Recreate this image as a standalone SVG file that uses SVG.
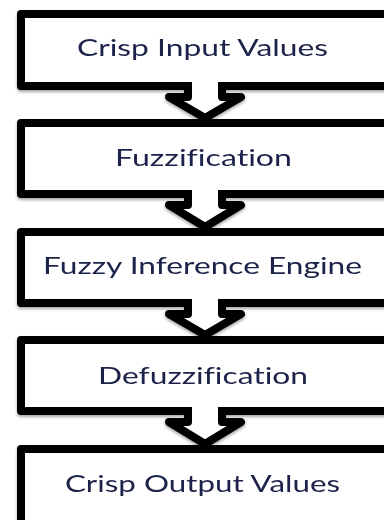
<svg xmlns="http://www.w3.org/2000/svg" width="384" height="520" viewBox="0 0 384 520">
  <defs>
    <filter id="shadow" x="-10%" y="-10%" width="120%" height="130%">
      <feDropShadow dx="0" dy="2" stdDeviation="1.6" flood-color="#000" flood-opacity="0.35"/>
    </filter>
    <style>
      .box { fill: #fff; stroke: #000; stroke-width: 8; stroke-linejoin: round; }
      .arrow { fill: #fff; stroke: #000; stroke-width: 8; stroke-linejoin: round; }
      .label { font-family: Lato, "Open Sans", sans-serif; font-size: 24px; fill: #1a2148; text-anchor: middle; font-variant-ligatures: none; font-feature-settings: "liga" 0, "dlig" 0; }
    </style>
  </defs>
  <rect width="384" height="520" fill="#fff"/>

  <g filter="url(#shadow)">
    <g id="crisp-input">
      <rect class="box" x="21" y="14" width="380" height="72"/>
      <text class="label" x="202.5" y="56" textLength="251" lengthAdjust="spacingAndGlyphs">Crisp Input Values</text>
    </g>
    <g id="fuzzification">
      <rect class="box" x="21" y="123" width="380" height="71"/>
      <text class="label" x="203.5" y="166" textLength="177" lengthAdjust="spacingAndGlyphs">Fuzzification</text>
    </g>
    <g id="inference-engine">
      <rect class="box" x="21" y="232" width="380" height="71"/>
      <text class="label" x="202.5" y="274" textLength="319" lengthAdjust="spacingAndGlyphs">Fuzzy Inference Engine</text>
    </g>
    <g id="defuzzification">
      <rect class="box" x="21" y="340" width="380" height="71"/>
      <text class="label" x="203" y="384" textLength="210" lengthAdjust="spacingAndGlyphs">Defuzzification</text>
    </g>
    <g id="crisp-output">
      <rect class="box" x="21" y="449" width="380" height="80"/>
      <text class="label" x="202.5" y="492" textLength="275" lengthAdjust="spacingAndGlyphs">Crisp Output Values</text>
    </g>

    <!-- hollow block arrows between stages -->
    <g id="connectors">
      <path class="arrow" d="M188,82 V97 H169 L205,118 L241,97 H222 V82"/>
      <path class="arrow" d="M188,190 V205 H169 L205,227 L241,205 H222 V190"/>
      <path class="arrow" d="M188,299 V314 H169 L205,335 L241,314 H222 V299"/>
      <path class="arrow" d="M188,407 V422 H169 L205,444 L241,422 H222 V407"/>
    </g>
  </g>
</svg>
